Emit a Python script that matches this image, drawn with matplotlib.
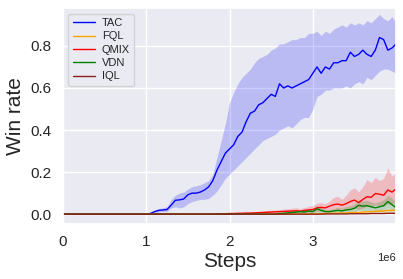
import numpy as np
import matplotlib
matplotlib.use("Agg")
import matplotlib.pyplot as plt
import seaborn as sns

sns.set_theme(style="darkgrid")
plt.rcParams['font.family'] = ['Liberation Sans', 'DejaVu Sans']

steps = np.arange(81) * 0.05e6

tac_mean = [0.0]*20 + [0.0, 0.003, 0.012, 0.018, 0.020, 0.022, 0.043, 0.066, 0.068, 0.072,
            0.092, 0.100, 0.100, 0.105, 0.115, 0.13, 0.16, 0.21, 0.25, 0.29,
            0.31, 0.33, 0.37, 0.39, 0.44, 0.48, 0.49, 0.52, 0.53, 0.55,
            0.57, 0.56, 0.62, 0.60, 0.61, 0.60, 0.61, 0.62, 0.63, 0.64,
            0.67, 0.70, 0.67, 0.70, 0.69, 0.72, 0.72, 0.73, 0.73, 0.77,
            0.75, 0.76, 0.78, 0.76, 0.75, 0.78, 0.84, 0.83, 0.78, 0.79, 0.81]
tac_lo = [0.0]*20 + [0.0, 0.0, 0.005, 0.010, 0.012, 0.012, 0.03, 0.035, 0.03, 0.035,
          0.05, 0.06, 0.065, 0.07, 0.07, 0.075, 0.09, 0.11, 0.14, 0.17,
          0.19, 0.21, 0.23, 0.25, 0.27, 0.29, 0.31, 0.33, 0.35, 0.36,
          0.37, 0.38, 0.40, 0.41, 0.42, 0.41, 0.43, 0.45, 0.46, 0.46,
          0.50, 0.56, 0.57, 0.59, 0.59, 0.60, 0.60, 0.60, 0.61, 0.60,
          0.62, 0.63, 0.62, 0.65, 0.64, 0.66, 0.68, 0.69, 0.69, 0.68, 0.67]
tac_hi = [0.0]*20 + [0.0, 0.005, 0.018, 0.026, 0.030, 0.035, 0.07, 0.09, 0.10, 0.105,
          0.12, 0.13, 0.135, 0.14, 0.15, 0.16, 0.19, 0.27, 0.35, 0.43,
          0.53, 0.58, 0.62, 0.65, 0.67, 0.69, 0.72, 0.74, 0.75, 0.76,
          0.78, 0.79, 0.81, 0.81, 0.82, 0.83, 0.83, 0.84, 0.84, 0.86,
          0.86, 0.87, 0.85, 0.87, 0.86, 0.88, 0.89, 0.90, 0.89, 0.91,
          0.90, 0.91, 0.90, 0.92, 0.91, 0.93, 0.95, 0.93, 0.92, 0.94, 0.91]

fql_mean = [0.0]*60 + [0.002, 0.002, 0.003, 0.003, 0.004, 0.004, 0.005, 0.005, 0.006, 0.007,
                       0.008, 0.008, 0.010, 0.011, 0.012, 0.013, 0.015, 0.014, 0.018, 0.017, 0.02]
fql_lo = [0.0]*60 + [0.0, 0.0, 0.0, 0.0, 0.001, 0.001, 0.001, 0.001, 0.002, 0.002,
                     0.003, 0.003, 0.004, 0.004, 0.005, 0.005, 0.006, 0.006, 0.008, 0.008, 0.01]
fql_hi = [0.0]*60 + [0.004, 0.004, 0.006, 0.006, 0.007, 0.008, 0.009, 0.009, 0.011, 0.012,
                     0.013, 0.014, 0.016, 0.018, 0.019, 0.021, 0.024, 0.023, 0.028, 0.027, 0.03]

qmix_mean = [0.0]*36 + [0.001, 0.001, 0.002, 0.002, 0.003, 0.003, 0.004, 0.004, 0.005, 0.005,
                        0.006, 0.007, 0.008, 0.009, 0.010, 0.011, 0.012, 0.013, 0.014, 0.015,
                        0.016, 0.014, 0.018, 0.020, 0.022, 0.030, 0.032, 0.030, 0.038, 0.045,
                        0.048, 0.043, 0.050, 0.060, 0.067, 0.055, 0.070, 0.083, 0.080, 0.098,
                        0.095, 0.090, 0.115, 0.105, 0.120]
qmix_lo = [0.0]*36 + [0.0, 0.0, 0.0, 0.0, 0.0, 0.0, 0.001, 0.001, 0.001, 0.001,
                      0.002, 0.002, 0.003, 0.003, 0.004, 0.004, 0.005, 0.005, 0.006, 0.006,
                      0.007, 0.006, 0.008, 0.009, 0.010, 0.014, 0.015, 0.013, 0.018, 0.020,
                      0.022, 0.018, 0.022, 0.028, 0.030, 0.022, 0.030, 0.038, 0.035, 0.045,
                      0.040, 0.038, 0.050, 0.045, 0.060]
qmix_hi = [0.0]*36 + [0.003, 0.003, 0.005, 0.005, 0.007, 0.007, 0.008, 0.009, 0.010, 0.011,
                      0.012, 0.014, 0.015, 0.017, 0.018, 0.020, 0.022, 0.024, 0.026, 0.028,
                      0.030, 0.026, 0.032, 0.036, 0.040, 0.052, 0.055, 0.050, 0.062, 0.080,
                      0.085, 0.070, 0.090, 0.115, 0.125, 0.105, 0.130, 0.165, 0.150, 0.175,
                      0.160, 0.170, 0.220, 0.180, 0.200]

vdn_mean = [0.0]*52 + [0.003, 0.004, 0.006, 0.008, 0.010, 0.012, 0.010, 0.015,
                       0.012, 0.025, 0.018, 0.012, 0.012, 0.015, 0.018, 0.015, 0.020, 0.022,
                       0.028, 0.042, 0.038, 0.040, 0.035, 0.030, 0.035, 0.040, 0.060, 0.045, 0.030]
vdn_lo = [0.0]*52 + [0.0, 0.0, 0.001, 0.002, 0.003, 0.004, 0.003, 0.005,
                     0.004, 0.010, 0.006, 0.004, 0.004, 0.005, 0.006, 0.005, 0.007, 0.008,
                     0.010, 0.020, 0.016, 0.018, 0.015, 0.012, 0.014, 0.016, 0.030, 0.020, 0.012]
vdn_hi = [0.0]*52 + [0.006, 0.008, 0.012, 0.015, 0.018, 0.022, 0.018, 0.028,
                     0.022, 0.042, 0.032, 0.022, 0.022, 0.026, 0.032, 0.028, 0.036, 0.040,
                     0.048, 0.068, 0.062, 0.066, 0.058, 0.052, 0.060, 0.068, 0.090, 0.075, 0.055]

iql_mean = [0.0]*60 + [0.0, 0.0, 0.0, 0.001, 0.001, 0.001, 0.001, 0.001, 0.001, 0.002,
                       0.002, 0.002, 0.002, 0.002, 0.003, 0.003, 0.003, 0.003, 0.004, 0.004, 0.004]

series = [
    ("TAC", "blue", tac_mean, tac_lo, tac_hi),
    ("FQL", "orange", fql_mean, fql_lo, fql_hi),
    ("QMIX", "red", qmix_mean, qmix_lo, qmix_hi),
    ("VDN", "green", vdn_mean, vdn_lo, vdn_hi),
    ("IQL", "#8B2020", iql_mean, iql_mean, iql_mean),
]

fig = plt.figure(figsize=(4.03, 2.79), dpi=100)
ax = fig.add_axes([0.156, 0.197, 0.827, 0.774])

for name, color, m, lo, hi in series:
    ax.plot(steps, m, color=color, lw=1.0, label=name)
    ax.fill_between(steps, lo, hi, color=color, alpha=0.2, lw=0)

ax.set_xlim(0, 4.0e6)
ax.set_ylim(-0.047, 0.98)
ax.set_yticks([0.0, 0.2, 0.4, 0.6, 0.8])
ax.set_xticks([0, 1e6, 2e6, 3e6])
ax.tick_params(labelsize=11, pad=2)
ax.xaxis.get_offset_text().set_fontsize(8)
ax.set_xlabel("Steps", fontsize=15, labelpad=2)
ax.set_ylabel("Win rate", fontsize=15, labelpad=4)
ax.legend(loc="upper left", fontsize=8, frameon=True, handlelength=2.0,
          handletextpad=0.6, labelspacing=0.3)

fig.savefig("out.png", dpi=100)
